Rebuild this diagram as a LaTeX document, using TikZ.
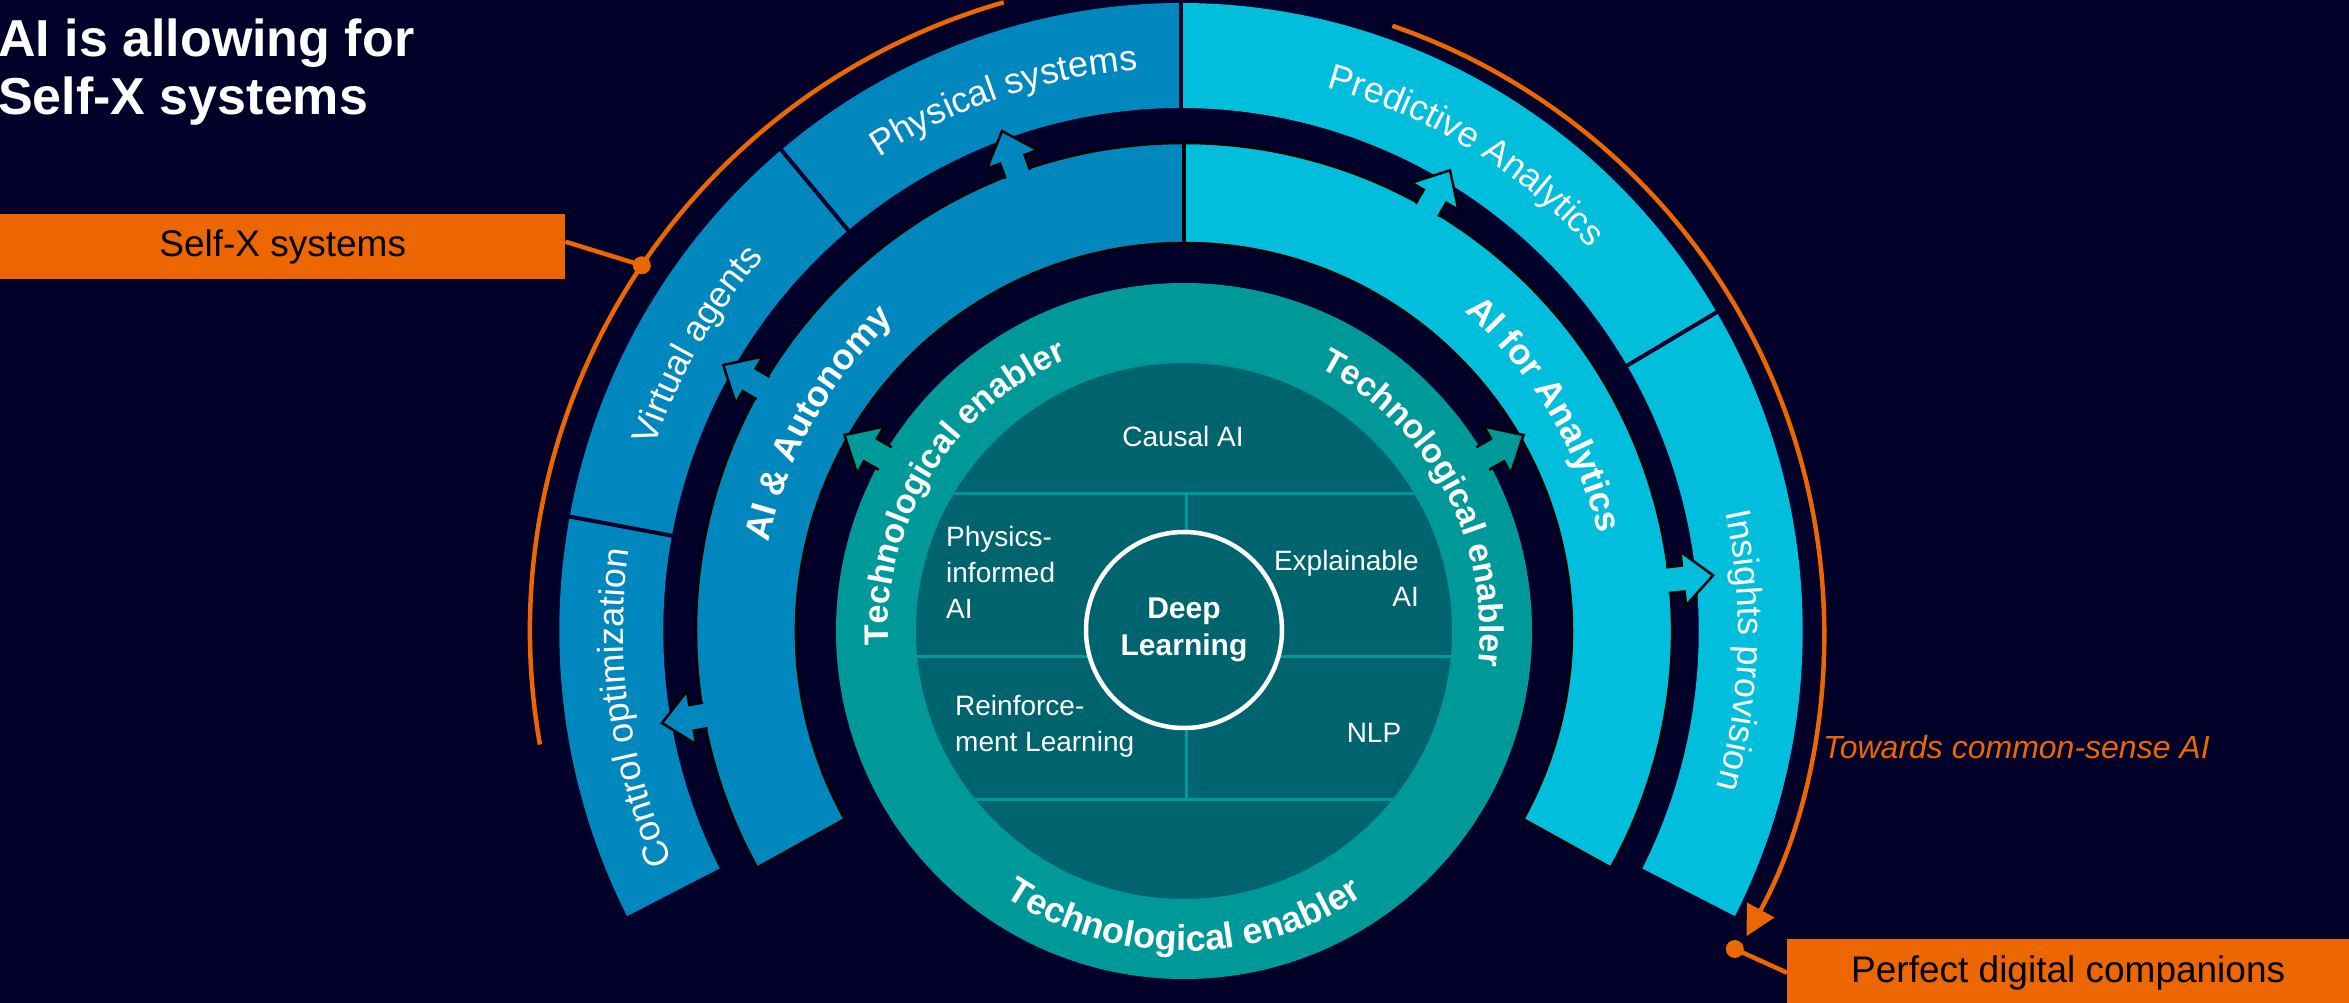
\documentclass[tikz,border=0pt]{standalone}
\usepackage{fontspec}
\setmainfont{Liberation Sans}
\usetikzlibrary{decorations.text,arrows.meta}
\definecolor{navy}{HTML}{000028}
\definecolor{bandblue}{HTML}{0087BE}
\definecolor{bandcyan}{HTML}{00BEDC}
\definecolor{petrol}{HTML}{009999}
\definecolor{darkpetrol}{HTML}{00646E}
\definecolor{sorange}{HTML}{EC6602}
\newcommand{\fsz}[2]{\fontsize{#1}{#2}\selectfont}
\newcommand{\annsector}[5][]{\path[#1] (#2:#5pt) arc[start angle=#2, end angle=#3, radius=#5pt] -- (#3:#4pt) arc[start angle=#3, end angle=#2, radius=#4pt] -- cycle;}
\newcommand{\blockarrow}[4]{%
  \begin{scope}[rotate=#1]
    \fill[#4] (#2,-13) -- ({#3-30},-13) -- ({#3-30},-27) -- (#3,0) -- ({#3-30},27) -- ({#3-30},13) -- (#2,13) -- cycle;
    \draw[shadowedge] (#2,-13) -- ({#3-30},-13) -- ({#3-30},-27) -- (#3,0) -- ({#3-30},27) -- ({#3-30},13) -- (#2,13);
  \end{scope}}
\newcommand{\cwtext}[4]{\path[decorate, decoration={text along path, text color=white, text align={align=center}, text={|#1|#4}}] ({#2+60}:#3pt) arc[start angle={#2+60}, end angle={#2-60}, radius=#3pt];}
\newcommand{\ccwtext}[4]{\path[decorate, decoration={text along path, text color=white, text align={align=center}, text={|#1|#4}}] ({#2-60}:#3pt) arc[start angle={#2-60}, end angle={#2+60}, radius=#3pt];}
\begin{document}
\begin{tikzpicture}[x=1pt,y=1pt,
  shadowedge/.style={draw=black, line width=2.5pt, line join=miter},
  gridline/.style={draw=petrol, line width=3pt},
  orangeline/.style={draw=sorange, line width=4.5pt},
  obox/.style={fill=sorange, inner sep=0pt, text=black, font=\fsz{37}{44}},
  innertext/.style={text=white, inner sep=0pt, font=\fsz{28}{36}}]
\useasboundingbox (-1184,-372) rectangle (1165,631);
\fill[navy] (-1184,-372) rectangle (1165,631);

% outer band (slightly narrower horizontally)
\begin{scope}[shift={(-3,0)}, xscale=0.99]
\annsector[fill=bandblue]{169.5}{207}{523}{628}
\annsector[fill=bandblue]{130}{169.5}{523}{628}
\annsector[fill=bandblue]{90}{130}{523}{628}
\annsector[fill=bandcyan]{30.5}{90}{523}{628}
\annsector[fill=bandcyan]{-27}{30.5}{523}{628}
\foreach \a in {169.5,130,90,30.5} \draw[navy, line width=4pt] (\a:518pt) -- (\a:634pt);
\end{scope}

% second band
\annsector[fill=bandblue, shadowedge]{90}{209}{388}{488}
\annsector[fill=bandcyan, shadowedge]{-29}{90}{388}{488}
\draw[black, line width=4pt] (90:386pt) -- (90:490pt);

% petrol ring and core
\fill[petrol] (0,0) circle[radius=348pt];
\fill[darkpetrol] (0,0) circle[radius=268pt];
\begin{scope}
  \clip (0,0) circle[radius=268pt];
  \draw[gridline] (-280,137) -- (280,137);
  \draw[gridline] (-280,-26) -- (280,-26);
  \draw[gridline] (-280,-168) -- (280,-168);
  \draw[gridline] (2,137) -- (2,-168);
\end{scope}
\node[circle, draw=white, line width=4.5pt, fill=darkpetrol, minimum size=196pt, inner sep=0pt, text=white, font=\bfseries\fsz{30}{37}, align=center] (deep) at (0,1) {Deep\\Learning};

% block arrows
\blockarrow{150}{345}{392}{petrol}
\blockarrow{30}{345}{392}{petrol}
\blockarrow{110}{486}{532}{bandblue}
\blockarrow{150}{486}{532}{bandblue}
\blockarrow{190}{486}{530}{bandblue}
\blockarrow{60}{486}{532}{bandcyan}
\blockarrow{6}{486}{532}{bandcyan}

% curved labels
\begin{scope}[shift={(-3,0)}, xscale=0.99]
\cwtext{\fsz{36}{43}}{108.5}{563}{Physical systems}
\cwtext{\fsz{36}{43}}{149.5}{563}{Virtual agents}
\cwtext{\fsz{36}{43}}{188}{563}{Control optimization}
\cwtext{\fsz{36}{43}}{59}{563}{Predictive Analytics}
\cwtext{\fsz{36}{43}}{-2}{563}{Insights provision}
\end{scope}
\cwtext{\bfseries\fsz{36}{43}}{150.5}{425}{AI {\&} Autonomy}
\cwtext{\bfseries\fsz{36}{43}}{31}{425}{AI for Analytics}
\cwtext{\bfseries\fsz{34}{41}}{148}{296}{Technological enabler}
\cwtext{\bfseries\fsz{34}{41}}{28}{296}{Technological enabler}
\ccwtext{\bfseries\fsz{36}{43}}{270}{320}{Technological enabler}

% core texts
\node[innertext] (causal) at (-1,195) {Causal AI};
\node[innertext, align=left, anchor=west] (physics) at (-238,59) {Physics-\\informed\\AI};
\node[innertext, align=right, anchor=east] (explain) at (235,53) {Explainable\\AI};
\node[innertext, align=left, anchor=west] (reinf) at (-229,-95) {Reinforce-\\ment Learning};
\node[innertext] (nlp) at (190,-102) {NLP};

% title
\node[anchor=base west, inner sep=0pt, text=white, font=\bfseries\fsz{52}{58}] (title1) at (-1186,574) {AI is allowing for};
\node[anchor=base west, inner sep=0pt, text=white, font=\bfseries\fsz{52}{58}] (title2) at (-1186,516) {Self-X systems};

% orange annotations
\node[obox, minimum width=565pt, minimum height=65pt, anchor=north west] (selfx) at (-1184,417) {Self-X systems};
\draw[orangeline] (106:654pt) arc[start angle=106, end angle=190, radius=654pt];
\coordinate (selfxdot) at (146:654pt);
\fill[sorange] (selfxdot) circle[radius=9pt];
\draw[orangeline] ([yshift=5pt]selfx.east) -- (selfxdot);

\draw[orangeline, -{Triangle[length=30pt,width=30pt]}] (71:640pt) arc[start angle=71, end angle=-28.5, radius=640pt];
\coordinate (pdcdot) at (-30:636pt);
\fill[sorange] (pdcdot) circle[radius=9pt];
\node[obox, minimum width=562pt, minimum height=67pt, anchor=north west] (pdc) at (603,-308) {Perfect digital companions};
\draw[orangeline] (pdcdot) -- (pdc.west);

\node[text=sorange, font=\itshape\fsz{32}{38}, anchor=west, inner sep=0pt] (towards) at (639,-116) {Towards common-sense AI};
\end{tikzpicture}
\end{document}
